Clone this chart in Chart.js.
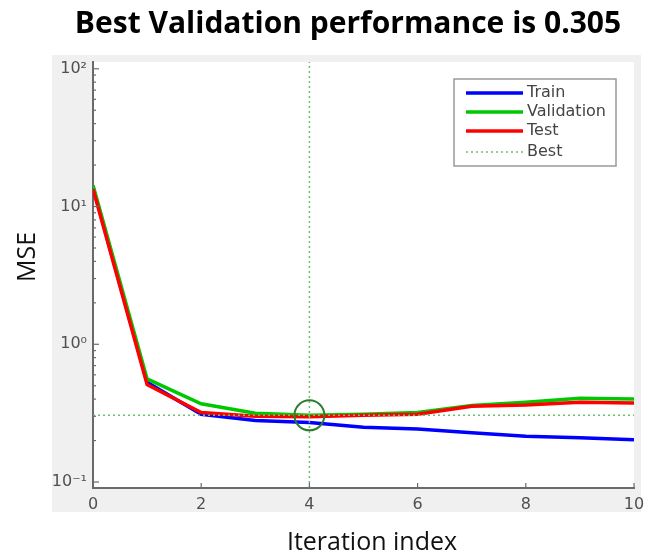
<!DOCTYPE html>
<html>
<head>
<meta charset="utf-8">
<title>Best Validation performance</title>
<script src="https://cdn.jsdelivr.net/npm/chart.js@4.4.1/dist/chart.umd.min.js"></script>
<style>
  html, body { margin: 0; padding: 0; background: #fff; }
  #chart-container { width: 654px; height: 555px; }
</style>
</head>
<body>
<div id="chart-container"><canvas id="perf-chart"></canvas></div>
<script>
// values
const iterations = [0, 1, 2, 3, 4, 5, 6, 7, 8, 9, 10];
const trainMse = [13.8, 0.53, 0.31, 0.28, 0.27, 0.25, 0.243, 0.228, 0.215, 0.21, 0.203];
const validationMse = [14.3, 0.56, 0.37, 0.316, 0.305, 0.31, 0.32, 0.36, 0.38, 0.405, 0.4];
const testMse = [13.4, 0.51, 0.32, 0.3, 0.298, 0.305, 0.31, 0.355, 0.363, 0.38, 0.375];
const bestEpoch = 4;
const bestMse = 0.305;

const xTickValues = [0, 2, 4, 6, 8, 10];
const yTickValues = [0.1, 1, 10, 100];
const yTickLabels = ["10\u207B\u00B9", "10\u2070", "10\u00B9", "10\u00B2"];
const yMin = 0.0905;
const yMax = 112;

const titleText = "Best Validation performance is " + bestMse;
const xTitle = "Iteration index";
const yTitle = "MSE";

// minor tick positions of the log axis (2..9 per decade)
const yMinorValues = [];
yTickValues.slice(0, -1).forEach((base) => {
  for (let m = 2; m <= 9; m++) yMinorValues.push(base * m);
});

const toPoints = (ys) => iterations.map((x, i) => ({ x: x, y: ys[i] }));

const tickFont = { family: "DejaVu Sans", size: 16 };
const tickColor = "#505050";
const axisColor = "#6a6a6a";

const backgroundPanel = {
  id: "backgroundPanel",
  beforeDraw(chart) {
    const { ctx, chartArea: ca } = chart;
    ctx.save();
    ctx.fillStyle = "#fff";
    ctx.fillRect(0, 0, chart.width, chart.height);
    ctx.fillStyle = "#f0f0f0";
    ctx.fillRect(ca.left - 41, ca.top - 7, ca.right - ca.left + 48, ca.bottom - ca.top + 31);
    ctx.fillStyle = "#fff";
    ctx.fillRect(ca.left, ca.top, ca.right - ca.left, ca.bottom - ca.top);
    ctx.restore();
  },
};

const inwardTicks = {
  id: "inwardTicks",
  afterDatasetsDraw(chart) {
    const { ctx, chartArea: ca, scales } = chart;
    ctx.save();
    ctx.strokeStyle = axisColor;
    ctx.lineWidth = 1.2;
    scales.y.ticks.forEach((t) => {
      const py = scales.y.getPixelForValue(t.value);
      const len = yTickValues.includes(t.value) ? 6 : 3;
      ctx.beginPath();
      ctx.moveTo(ca.left, py);
      ctx.lineTo(ca.left + len, py);
      ctx.stroke();
    });
    scales.x.ticks.forEach((t) => {
      const px = scales.x.getPixelForValue(t.value);
      ctx.beginPath();
      ctx.moveTo(px, ca.bottom);
      ctx.lineTo(px, ca.bottom - 5);
      ctx.stroke();
    });
    ctx.restore();
  },
};

// title and axis labels, placed like the MATLAB figure
const plotTexts = {
  id: "plotTexts",
  afterDraw(chart) {
    const ctx = chart.ctx;
    ctx.save();
    ctx.fillStyle = "#000";
    ctx.textAlign = "center";
    ctx.textBaseline = "alphabetic";
    ctx.font = "bold 30px 'Open Sans'";
    ctx.fillText(titleText, 348, 33);
    ctx.fillStyle = "#111";
    ctx.font = "25px 'Open Sans'";
    ctx.fillText(xTitle, 372, 550);
    ctx.translate(35, 257);
    ctx.rotate(-Math.PI / 2);
    ctx.fillText(yTitle, 0, 0);
    ctx.restore();
  },
};

const boxLegend = {
  id: "boxLegend",
  afterDraw(chart) {
    const { ctx, chartArea: ca } = chart;
    const items = chart.data.datasets.filter((ds) => ds.label);
    const left = ca.right - 180;
    const top = ca.top + 17;
    ctx.save();
    ctx.fillStyle = "#fff";
    ctx.fillRect(left, top, 162, 87);
    ctx.strokeStyle = "#9a9a9a";
    ctx.lineWidth = 1.5;
    ctx.strokeRect(left, top, 162, 87);
    ctx.font = "16px 'DejaVu Sans'";
    ctx.textBaseline = "middle";
    ctx.fillStyle = "#444";
    const rows = [14, 33, 52, 73];
    items.forEach((ds, i) => {
      const y = top + rows[i];
      ctx.strokeStyle = ds.borderColor;
      ctx.lineWidth = ds.borderWidth;
      ctx.setLineDash(ds.borderDash || []);
      ctx.beginPath();
      ctx.moveTo(left + 12, y);
      ctx.lineTo(left + 69, y);
      ctx.stroke();
      ctx.setLineDash([]);
      ctx.fillText(ds.label, left + 73, y);
    });
    ctx.restore();
  },
};

const ctx = document.getElementById("perf-chart");

const perfChart = new Chart(ctx, {
  type: "line",
  data: {
    datasets: [
      {
        label: "Train",
        data: toPoints(trainMse),
        borderColor: "#0000ff",
        borderWidth: 3.5,
        pointRadius: 0,
        order: 5,
      },
      {
        label: "Validation",
        data: toPoints(validationMse),
        borderColor: "#00c800",
        borderWidth: 3.5,
        pointRadius: 0,
        order: 4,
      },
      {
        label: "Test",
        data: toPoints(testMse),
        borderColor: "#ff0000",
        borderWidth: 3.5,
        pointRadius: 0,
        order: 3,
      },
      {
        label: "Best",
        data: [
          { x: iterations[0], y: bestMse },
          { x: iterations[iterations.length - 1], y: bestMse },
        ],
        borderColor: "#6cbf6c",
        borderWidth: 1.5,
        borderDash: [2, 3],
        pointRadius: 0,
        order: 2,
      },
      {
        label: "",
        data: [
          { x: bestEpoch, y: yMin },
          { x: bestEpoch, y: yMax },
        ],
        borderColor: "#6cbf6c",
        borderWidth: 1.5,
        borderDash: [2, 3],
        pointRadius: 0,
        order: 1,
      },
      {
        label: "",
        data: [{ x: bestEpoch, y: bestMse }],
        showLine: false,
        pointRadius: 15,
        pointBorderWidth: 2,
        pointBorderColor: "#2a7f2a",
        pointBackgroundColor: "rgba(0,0,0,0)",
        order: 0,
      },
    ],
  },
  options: {
    responsive: true,
    maintainAspectRatio: false,
    animation: false,
    layout: {
      padding: { top: 62, right: 20, left: 0, bottom: 0 },
    },
    plugins: {
      legend: { display: false },
      title: { display: false },
      tooltip: { enabled: false },
    },
    scales: {
      x: {
        type: "linear",
        min: 0,
        max: 10,
        afterBuildTicks: (scale) => {
          scale.ticks = xTickValues.map((v) => ({ value: v }));
        },
        afterFit: (scale) => {
          scale.height = 67;
        },
        grid: { display: true, drawOnChartArea: false, drawTicks: false },
        border: { color: axisColor, width: 2 },
        ticks: { padding: 7, font: tickFont, color: tickColor },
      },
      y: {
        type: "logarithmic",
        min: yMin,
        max: yMax,
        afterBuildTicks: (scale) => {
          scale.ticks = yTickValues
            .concat(yMinorValues)
            .sort((a, b) => a - b)
            .map((v) => ({ value: v }));
        },
        afterFit: (scale) => {
          scale.width = 93;
        },
        grid: { display: true, drawOnChartArea: false, drawTicks: false },
        border: { color: axisColor, width: 2 },
        ticks: {
          autoSkip: false,
          padding: 6,
          font: tickFont,
          color: tickColor,
          callback: (value) => {
            const i = yTickValues.indexOf(value);
            return i >= 0 ? yTickLabels[i] : "";
          },
        },
      },
    },
  },
  plugins: [backgroundPanel, inwardTicks, plotTexts, boxLegend],
});
</script>
</body>
</html>
